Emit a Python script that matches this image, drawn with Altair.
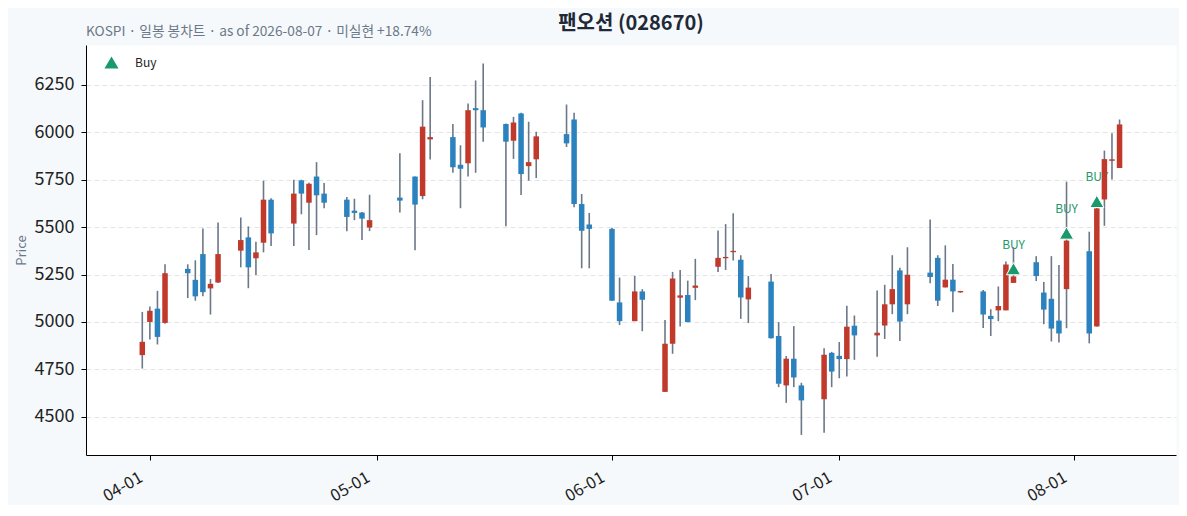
import altair as alt
import pandas as pd

# ---------------- data ----------------
dates = [
    "2026-03-31", "2026-04-01", "2026-04-02", "2026-04-03",
    "2026-04-06", "2026-04-07", "2026-04-08", "2026-04-09", "2026-04-10",
    "2026-04-13", "2026-04-14", "2026-04-15", "2026-04-16", "2026-04-17",
    "2026-04-20", "2026-04-21", "2026-04-22", "2026-04-23", "2026-04-24",
    "2026-04-27", "2026-04-28", "2026-04-29", "2026-04-30",
    "2026-05-04", "2026-05-06", "2026-05-07", "2026-05-08",
    "2026-05-11", "2026-05-12", "2026-05-13", "2026-05-14", "2026-05-15",
    "2026-05-18", "2026-05-19", "2026-05-20", "2026-05-21", "2026-05-22",
    "2026-05-26", "2026-05-27", "2026-05-28", "2026-05-29",
    "2026-06-01", "2026-06-02", "2026-06-04", "2026-06-05",
    "2026-06-08", "2026-06-09", "2026-06-10", "2026-06-11", "2026-06-12",
    "2026-06-15", "2026-06-16", "2026-06-17", "2026-06-18", "2026-06-19",
    "2026-06-22", "2026-06-23", "2026-06-24", "2026-06-25", "2026-06-26",
    "2026-06-29", "2026-06-30", "2026-07-01", "2026-07-02", "2026-07-03",
    "2026-07-06", "2026-07-07", "2026-07-08", "2026-07-09", "2026-07-10",
    "2026-07-13", "2026-07-14", "2026-07-15", "2026-07-16", "2026-07-17",
    "2026-07-20", "2026-07-21", "2026-07-22", "2026-07-23", "2026-07-24",
    "2026-07-27", "2026-07-28", "2026-07-29", "2026-07-30", "2026-07-31",
    "2026-08-03", "2026-08-04", "2026-08-05", "2026-08-06", "2026-08-07",
]
opens = [
    4825, 5000, 5070, 4995,
    5280, 5222, 5358, 5177, 5208,
    5376, 5446, 5336, 5418, 5645,
    5519, 5747, 5629, 5767, 5677,
    5645, 5587, 5577, 5498,
    5656, 5767, 5664, 5963,
    5975, 5829, 5837, 6128, 6117,
    6044, 5956, 6100, 5822, 5858,
    5991, 6068, 5622, 5514,
    5491, 5103, 5004, 5161,
    4631, 4885, 5128, 5142, 5180,
    5291, 5336, 5368, 5328, 5119,
    5213, 4926, 4665, 4806, 4665,
    4592, 4837, 4821, 4804, 4980,
    4929, 4981, 5093, 5272, 5093,
    5260, 5338, 5182, 5223, 5156,
    5161, 5032, 5061, 5061, 5206,
    5315, 5155, 5122, 5007, 5173,
    5373, 4976, 5646, 5850, 5812,
]
highs = [
    5053, 5082, 5164, 5304,
    5304, 5325, 5493, 5226, 5525,
    5551, 5504, 5423, 5745, 5652,
    5750, 5750, 5734, 5843, 5733,
    5659, 5650, 5580, 5671,
    5890, 5767, 6170, 6292,
    6044, 5932, 6152, 6274, 6364,
    6047, 6082, 6103, 6056, 6003,
    6147, 6103, 5675, 5575,
    5497, 5234, 5243, 5173,
    5010, 5264, 5274, 5218, 5333,
    5483, 5516, 5573, 5352, 5242,
    5253, 4999, 4820, 4978, 4679,
    4861, 4842, 4894, 5086, 5034,
    5166, 5196, 5352, 5286, 5394,
    5540, 5352, 5404, 5305, 5164,
    5169, 5067, 5187, 5319, 5394,
    5347, 5211, 5347, 5301, 5740,
    5476, 5646, 5904, 5995, 6068,
]
lows = [
    4754, 4907, 4881, 4990,
    5126, 5112, 5135, 5039, 5205,
    5288, 5178, 5248, 5367, 5400,
    5400, 5568, 5379, 5458, 5600,
    5479, 5537, 5432, 5479,
    5577, 5378, 5647, 5857,
    5787, 5600, 5767, 5787, 5951,
    5505, 5860, 5670, 5745, 5759,
    5923, 5605, 5283, 5283,
    5112, 4984, 5004, 4951,
    4631, 4832, 4976, 4999, 5115,
    5263, 5274, 5324, 5016, 4994,
    4912, 4656, 4573, 4656, 4404,
    4416, 4656, 4703, 4712, 4800,
    4816, 4910, 5041, 4900, 5041,
    5204, 5084, 5182, 5051, 5154,
    4968, 4926, 5004, 5061, 5206,
    5216, 4988, 4897, 4892, 4967,
    4887, 4976, 5507, 5751, 5812,
]
closes = [
    4895, 5059, 4921, 5257,
    5257, 5135, 5157, 5201, 5358,
    5432, 5288, 5367, 5645, 5467,
    5677, 5677, 5729, 5668, 5629,
    5554, 5575, 5545, 5537,
    5640, 5619, 6030, 5975,
    5816, 5808, 6117, 6117, 6026,
    5951, 6052, 5780, 5843, 5979,
    5942, 5622, 5481, 5491,
    5112, 5004, 5161, 5117,
    4885, 5229, 5140, 4999, 5192,
    5338, 5343, 5375, 5129, 5181,
    4914, 4674, 4806, 4707, 4586,
    4827, 4738, 4804, 4975, 4929,
    4943, 5093, 5173, 5002, 5249,
    5237, 5112, 5223, 5161, 5163,
    5039, 5015, 5084, 5303, 5240,
    5242, 5065, 4965, 4939, 5429,
    4939, 5599, 5859, 5858, 6042,
]

buy_dates = ["2026-07-24", "2026-07-31", "2026-08-04"]
buy_prices = [5281, 5469, 5636]
buy_labels = ["BUY", "BUY", "BUY"]
legend_names = ["Buy", "Buy", "Buy"]

title_text = "팬오션 (028670)"
subtitle_text = "KOSPI · 일봉 봉차트 · as of 2026-08-07 · 미실현 +18.74%"
y_ticks = [4500, 4750, 5000, 5250, 5500, 5750, 6000, 6250]
x_tick_months = [4, 5, 6, 7, 8]
y_domain = [4298, 6461]

FONT = "Noto Sans CJK KR"
UP = "#c0392b"
DOWN = "#2b82be"
WICK = "#6b7888"
GREEN = "#1a9a6c"

# ---------------- frames ----------------
ohlc = pd.DataFrame({"date": dates, "open": opens, "high": highs,
                     "low": lows, "close": closes})
buys = pd.DataFrame({"date": buy_dates, "price": buy_prices,
                     "label": buy_labels, "sig": legend_names})
sub = pd.DataFrame({"t": [subtitle_text]})

x_scale = alt.Scale(
    type="utc",
    domain=[alt.DateTime(year=2026, month=3, date=24, hours=5, minutes=30, utc=True),
            alt.DateTime(year=2026, month=8, date=13, hours=19, utc=True)],
)
x_axis = alt.Axis(
    values=[alt.DateTime(year=2026, month=m, date=1, utc=True) for m in x_tick_months],
    format="%m-%d", labelAngle=-30, labelAlign="right", labelBaseline="top",
    grid=False, title=None, tickSize=5, labelPadding=9, labelOffset=-13,
    labelFontSize=16.5, labelColor="#222222",
)
y_scale = alt.Scale(domain=y_domain, nice=False, zero=False)
y_axis = alt.Axis(
    values=y_ticks, format="d", title="Price", grid=True, gridDash=[5, 3],
    gridColor="#e4e4e4", tickSize=5, labelPadding=7, labelFontSize=18,
    labelColor="#222222", titleColor="#6b7888", titleFontSize=13,
    titleFontWeight="normal", titlePadding=6,
)

X = alt.X("date:T", scale=x_scale, axis=x_axis)

labels = alt.Chart(buys).mark_text(
    dy=-24, fontSize=12, color=GREEN, font=FONT
).encode(x=X, y=alt.Y("price:Q", scale=y_scale, axis=y_axis), text="label:N")

wicks = alt.Chart(ohlc).mark_rule(color=WICK, strokeWidth=1.6).encode(
    x=X, y=alt.Y("low:Q", scale=y_scale, axis=y_axis), y2="high:Q"
)

bodies = alt.Chart(ohlc).mark_bar(size=5.5).encode(
    x=X,
    y=alt.Y("open:Q", scale=y_scale, axis=y_axis),
    y2="close:Q",
    color=alt.condition("datum.close >= datum.open", alt.value(UP), alt.value(DOWN)),
)

marks = alt.Chart(buys).mark_point(
    shape="triangle-up", filled=True, size=200, stroke="white",
    strokeWidth=1, opacity=1
).encode(
    x=X,
    y=alt.Y("price:Q", scale=y_scale, axis=y_axis),
    color=alt.Color("sig:N", scale=alt.Scale(domain=["Buy"], range=[GREEN]),
                    legend=alt.Legend(title=None, orient="none", legendX=18,
                                      legendY=10, symbolType="triangle-up",
                                      symbolSize=200, symbolStrokeWidth=0,
                                      labelFontSize=12, labelOffset=16,
                                      padding=0, labelFont=FONT,
                                      labelColor="#222222")),
)

subtitle = alt.Chart(sub).mark_text(
    align="left", baseline="middle", fontSize=13.7, color="#6b7888", font=FONT
).encode(x=alt.value(0), y=alt.value(-13), text="t:N")

chart = alt.layer(labels, wicks, bodies, marks, subtitle).properties(
    width=1090, height=410,
    title=alt.TitleParams(title_text, anchor="middle", fontSize=20,
                          fontWeight="bold", color="#1f2937", offset=-9,
                          font=FONT),
    autosize=alt.AutoSizeParams(type="none"),
    padding={"left": 78, "top": 37, "right": 3, "bottom": 50},
    background="#f6f9fc",
).configure_view(fill="white", stroke="transparent").configure_axis(
    domainColor="#000000", tickColor="#000000", labelFont=FONT, titleFont=FONT,
    domainWidth=1,
)

chart.save("out.html", embed_options={"renderer": "svg", "actions": False})
